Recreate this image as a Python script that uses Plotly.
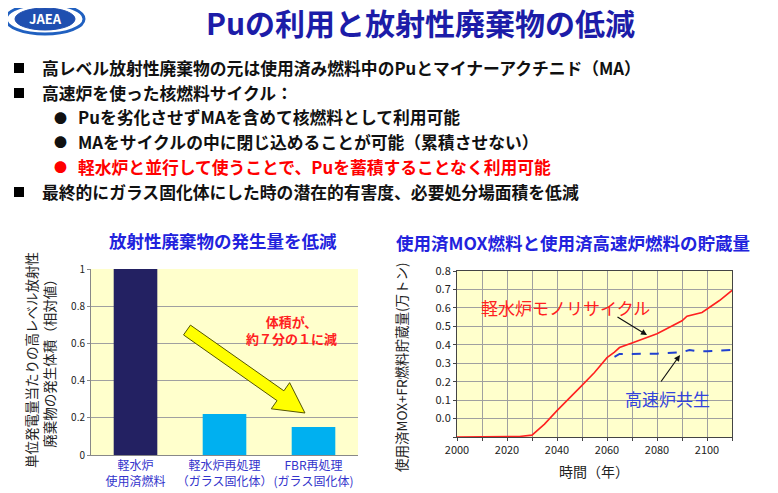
import plotly.graph_objects as go
import math

W, H = 778, 493
OFF = 8  # page offset of the figure in the browser window
def px(x): return (x - OFF) / W
def py(y): return 1 - (y - OFF) / H

# Left chart data
bar_cats = ["軽水炉<br>使用済燃料", "軽水炉再処理<br>（ガラス固化体）", "FBR再処理<br>(ガラス固化体)"]
bar_vals = [1.0, 0.22, 0.15]
bar_colors = ["#232162", "#00B0F0", "#00B0F0"]

# Right chart data
years_lwr = [2000, 2010, 2020, 2025, 2030, 2035, 2040, 2045, 2050, 2055, 2060, 2063, 2065, 2070, 2080, 2090, 2092, 2098, 2105, 2110]
vals_lwr = [-0.1, -0.1, -0.1, -0.097, -0.09, -0.03, 0.043, 0.11, 0.18, 0.25, 0.33, 0.36, 0.385, 0.41, 0.46, 0.53, 0.555, 0.575, 0.64, 0.695]
years_fbr = [2063, 2065, 2070, 2080, 2090, 2093, 2096, 2100, 2110]
vals_fbr = [0.335, 0.35, 0.35, 0.352, 0.36, 0.372, 0.365, 0.365, 0.372]

font = "Noto Sans CJK JP"
fig = go.Figure()
fig.add_trace(go.Bar(x=bar_cats, y=bar_vals, marker=dict(color=bar_colors, line=dict(width=0)),
                     width=0.49, xaxis="x", yaxis="y", showlegend=False))
fig.add_trace(go.Scatter(x=years_lwr, y=vals_lwr, mode="lines", line=dict(color="#FF2020", width=1.6),
                         xaxis="x2", yaxis="y2", showlegend=False))
fig.add_trace(go.Scatter(x=years_fbr, y=vals_fbr, mode="lines", line=dict(color="#2040D0", width=2, dash="dash"),
                         xaxis="x2", yaxis="y2", showlegend=False))

grid = "#A0A0A0"
fig.update_layout(
    width=W, height=H, margin=dict(l=0, r=0, t=0, b=0),
    paper_bgcolor="white", font=dict(family=font, color="#222"),
    xaxis=dict(domain=[px(91), px(358)], anchor="y", showgrid=False, showline=True, linecolor="#888",
               tickfont=dict(size=12, color="#3333CC"), ticks="", tickangle=0, automargin=False),
    yaxis=dict(domain=[py(455), py(269)], anchor="x", range=[0, 1], dtick=0.2, gridcolor=grid,
               showline=True, linecolor="#888", ticks="outside", ticklen=3, tickcolor="#888",
               tickfont=dict(size=10, color="#222"), tickformat="~g", zeroline=False, automargin=False),
    xaxis2=dict(domain=[px(457), px(732)], anchor="y2", range=[2000, 2110],
                tickvals=list(range(2000, 2111, 10)),
                ticktext=[str(v) if v % 20 == 0 else "" for v in range(2000, 2111, 10)],
                gridcolor=grid, showline=True, linecolor="#444", ticks="outside", ticklen=3,
                tickfont=dict(size=11, color="#222"), mirror=True, tickangle=0, automargin=False),
    yaxis2=dict(domain=[py(437), py(271)], anchor="x2", range=[-0.1, 0.8],
                tickvals=[round(-0.1 + 0.1 * i, 1) for i in range(10)],
                ticktext=[""] + [f"{0.1*i:.1f}" for i in range(9)],
                gridcolor=grid, showline=True, linecolor="#444", ticks="outside", ticklen=3,
                tickfont=dict(size=11, color="#222"), zeroline=False, mirror=True, automargin=False),
    plot_bgcolor="#FFFFCC",
)

shapes = []
shapes.append(dict(type="circle", xref="paper", yref="paper", x0=px(6), x1=px(84), y0=py(34), y1=py(4),
                   line=dict(color="#2060C0", width=3)))
shapes.append(dict(type="circle", xref="paper", yref="paper", x0=px(15), x1=px(75), y0=py(30), y1=py(8),
                   fillcolor="#1F4FB0", line=dict(color="#1F4FB0", width=1)))
for y in [68, 93, 192]:
    shapes.append(dict(type="rect", xref="paper", yref="paper", x0=px(14), x1=px(24), y0=py(y + 5), y1=py(y - 5),
                       fillcolor="black", line=dict(width=0)))

sx, sy, ex, ey = 187, 330, 305, 413
dx, dy = ex - sx, ey - sy
L = math.hypot(dx, dy); ux, uy = dx / L, dy / L; nx, ny = -uy, ux
hw, hh, hl = 6, 16, 30
bx, by = ex - ux * hl, ey - uy * hl
pts = [(sx + nx * hw, sy + ny * hw), (bx + nx * hw, by + ny * hw), (bx + nx * hh, by + ny * hh), (ex, ey),
       (bx - nx * hh, by - ny * hh), (bx - nx * hw, by - ny * hw), (sx - nx * hw, sy - ny * hw)]
path = "M " + " L ".join(f"{px(a):.4f},{py(b):.4f}" for a, b in pts) + " Z"
shapes.append(dict(type="path", xref="paper", yref="paper", path=path, fillcolor="#FFFF00",
                   line=dict(color="#555500", width=1)))
fig.update_layout(shapes=shapes)

ann = []
def T(x, y, text, size, color="#111", bold=True, xanchor="left", angle=0):
    ann.append(dict(xref="paper", yref="paper", x=px(x), y=py(y), text=f"<b>{text}</b>" if bold else text,
                    showarrow=False, xanchor=xanchor, yanchor="middle", textangle=angle,
                    font=dict(size=size, color=color, family=font)))

T(45, 19, "JAEA", 13, "white", xanchor="center")
T(420, 22, "Puの利用と放射性廃棄物の低減", 30, "#1C1CA8", xanchor="center")
T(40, 68, "高レベル放射性廃棄物の元は使用済み燃料中のPuとマイナーアクチニド（MA）", 16.8)
T(40, 93, "高速炉を使った核燃料サイクル：", 16.8)
T(52, 117, "●", 13); T(76, 117, "Puを劣化させずMAを含めて核燃料として利用可能", 16.8)
T(52, 142, "●", 13); T(76, 142, "MAをサイクルの中に閉じ込めることが可能（累積させない）", 16.8)
T(52, 167, "●", 13, "#FF0000"); T(76, 167, "軽水炉と並行して使うことで、Puを蓄積することなく利用可能", 16.8, "#FF0000")
T(40, 192, "最終的にガラス固化体にした時の潜在的有害度、必要処分場面積を低減", 16.8)

T(223, 240, "放射性廃棄物の発生量を低減", 17.5, "#2222DD", xanchor="center")
T(573, 242, "使用済MOX燃料と使用済高速炉燃料の貯蔵量", 17.5, "#2222DD", xanchor="center")
T(40, 360, "単位発電量当たりの高レベル放射性<br>廃棄物の発生体積（相対値）", 13.5, "#222", bold=False, xanchor="center", angle=-90)
T(401, 367, "使用済MOX+FR燃料貯蔵量(万トン)", 13.5, "#222", bold=False, xanchor="center", angle=-90)
T(594, 471, "時間（年）", 14, "#222", bold=False, xanchor="center")
T(291, 330, "体積が、<br>約７分の１に減", 13, "#FF2020", xanchor="center")
T(565, 307, "軽水炉モノリサイクル", 17, "#FF2020", bold=False, xanchor="center")
T(667, 398, "高速炉共生", 17, "#3344DD", bold=False, xanchor="center")

ann.append(dict(xref="paper", yref="paper", x=px(647), y=py(335), ax=616 - 647, ay=316 - 335,
                showarrow=True, arrowhead=2, arrowsize=1, arrowwidth=1.2, arrowcolor="#111", text=""))
ann.append(dict(xref="paper", yref="paper", x=px(680), y=py(355), ax=660 - 680, ay=383 - 355,
                showarrow=True, arrowhead=2, arrowsize=1, arrowwidth=1.2, arrowcolor="#111", text=""))
fig.update_layout(annotations=ann)

fig.write_html("out.html")
